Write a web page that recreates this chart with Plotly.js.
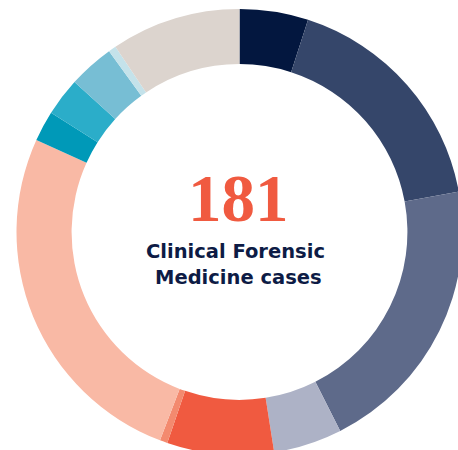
<!DOCTYPE html>
<html>
<head>
<meta charset="utf-8">
<script src="https://cdn.plot.ly/plotly-3.0.1.min.js"></script>
<style>
html,body{margin:0;padding:0;background:#fff;overflow:hidden;width:458px;height:450px;}
#chart{width:480px;height:470px;}
</style>
</head>
<body>
<div id="chart"></div>
<script>
// Case categories (labels unknown in the picture) and case counts, clockwise from 12 o'clock
var categories = ["Category 1","Category 2","Category 3","Category 4","Category 5","Category 6",
                  "Category 7","Category 8","Category 9","Category 10","Category 11","Category 12"];
var cases = [9, 31, 37, 9, 14, 1, 47, 4, 5, 6, 1, 17];
var sliceColors = ["#03173f","#35466a","#5e6a8a","#adb2c6","#f05a40","#f38a6f",
                   "#f9b9a5","#0099b8","#2badc9","#77bed4","#c4e2ea","#dcd4ce"];
var totalLabel = "181";
var centerLines = ["Clinical Forensic","Medicine cases"];

var W = 480, H = 470;
var cx = 239.5, cy = 232, R = 223;

var trace = {
  type: "pie",
  labels: categories,
  values: cases,
  sort: false,
  direction: "clockwise",
  rotation: 0,
  hole: 0.753,
  textinfo: "none",
  hoverinfo: "label+value",
  marker: {colors: sliceColors, line: {width: 0}},
  domain: {x: [(cx - R) / W, (cx + R) / W], y: [1 - (cy + R) / H, 1 - (cy - R) / H]},
  showlegend: false
};

var layout = {
  width: W, height: H,
  margin: {l: 0, r: 0, t: 0, b: 0},
  paper_bgcolor: "#ffffff",
  showlegend: false,
  annotations: [
    {text: "<b>" + totalLabel + "</b>", xref: "paper", yref: "paper", x: 238.5 / W, y: 1 - 198 / H,
     xanchor: "center", yanchor: "middle", showarrow: false,
     font: {family: "Liberation Serif, serif", size: 67, color: "#f05a40"}},
    {text: "<b>" + centerLines[0] + "</b>", xref: "paper", yref: "paper", x: 235 / W, y: 1 - 251 / H,
     xanchor: "center", yanchor: "middle", showarrow: false,
     font: {family: "DejaVu Sans, sans-serif", size: 19.5, color: "#0d1b45"}},
    {text: "<b>" + centerLines[1] + "</b>", xref: "paper", yref: "paper", x: 238.5 / W, y: 1 - 277 / H,
     xanchor: "center", yanchor: "middle", showarrow: false,
     font: {family: "DejaVu Sans, sans-serif", size: 19.5, color: "#0d1b45"}}
  ]
};

Plotly.newPlot("chart", [trace], layout, {displayModeBar: false, staticPlot: true});
</script>
</body>
</html>
